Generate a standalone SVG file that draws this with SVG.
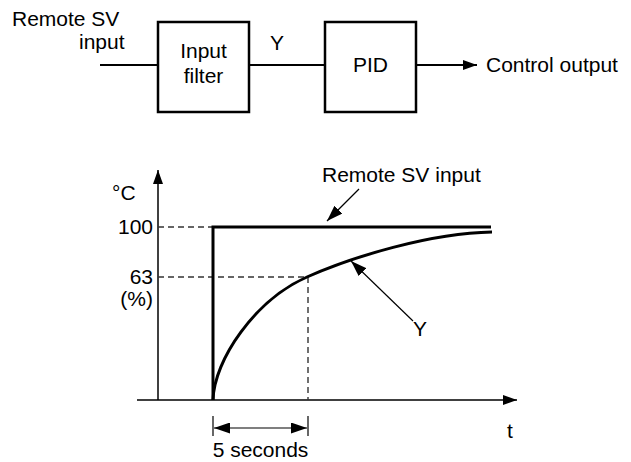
<svg xmlns="http://www.w3.org/2000/svg" width="631" height="462" viewBox="0 0 631 462">
<style>
text{font-family:"Liberation Sans",Arial,sans-serif;font-size:21px;fill:#000}
.box{fill:#fff;stroke:#000;stroke-width:2.5}
.ln{stroke:#000;stroke-width:2;fill:none}
.ax{stroke:#000;stroke-width:1.5;fill:none}
.thick{stroke:#000;stroke-width:3;fill:none}
.dash{stroke:#333;stroke-width:1.4;fill:none;stroke-dasharray:6,4}
.thin{stroke:#000;stroke-width:1.2;fill:none}
</style>
<defs>
<marker id="ah" viewBox="0 0 14 10" refX="14" refY="5" markerWidth="14" markerHeight="10" markerUnits="userSpaceOnUse" orient="auto-start-reverse">
<path d="M0,0 L14,5 L0,10 Z" fill="#000"/>
</marker>
<marker id="ahs" viewBox="0 0 16 11" refX="16" refY="5.5" markerWidth="16" markerHeight="11" markerUnits="userSpaceOnUse" orient="auto-start-reverse">
<path d="M0,0 L16,5.5 L0,11 Z" fill="#000"/>
</marker>
</defs>
<g id="connectors">
<line class="ln" x1="100" y1="65" x2="158" y2="65"/>
<line class="ln" x1="249" y1="65" x2="325" y2="65"/>
<line class="ln" x1="416" y1="65" x2="477" y2="65" marker-end="url(#ah)"/>
</g>
<g id="remote-label">
<text x="12" y="26">Remote SV</text>
<text x="79" y="49">input</text>
</g>
<g id="input-filter">
<rect class="box" x="158" y="22" width="91" height="90"/>
<text x="203.5" y="58" text-anchor="middle">Input</text>
<text x="203.5" y="83" text-anchor="middle">filter</text>
</g>
<g id="y-label"><text x="270" y="50">Y</text></g>
<g id="pid">
<rect class="box" x="325" y="22" width="91" height="90"/>
<text x="370.5" y="72" text-anchor="middle">PID</text>
</g>
<g id="control-output"><text x="486" y="72">Control output</text></g>

<g id="graph">
<line class="ax" x1="158" y1="400" x2="158" y2="170" marker-end="url(#ah)"/>
<line class="ax" x1="137" y1="400" x2="517" y2="400" marker-end="url(#ah)"/>
<line class="dash" x1="158" y1="227" x2="213" y2="227"/>
<line class="dash" x1="158" y1="277" x2="308" y2="277"/>
<line class="dash" x1="308" y1="277" x2="308" y2="400"/>
<polyline class="thick" points="213,400 213,227 491,227"/>
<path class="thick" d="M213,400 C214,360 255,300 307,277 C352,257 430,233 492,232"/>
<text x="112" y="200">°C</text>
<text x="153" y="234" text-anchor="end">100</text>
<text x="153" y="284" text-anchor="end">63</text>
<text x="153" y="306" text-anchor="end">(%)</text>
<text x="322" y="182">Remote SV input</text>
<line class="thin" x1="359" y1="189" x2="327" y2="221" marker-end="url(#ahs)"/>
<line class="thin" x1="413" y1="321" x2="351" y2="261" marker-end="url(#ahs)"/>
<text x="420" y="336" text-anchor="middle">Y</text>
<text x="507" y="438">t</text>
<line class="thin" x1="213" y1="416" x2="213" y2="436"/>
<line class="thin" x1="308" y1="416" x2="308" y2="436"/>
<line class="thin" x1="214" y1="428" x2="307" y2="428" marker-start="url(#ahs)" marker-end="url(#ahs)"/>
<text x="260.5" y="457" text-anchor="middle">5 seconds</text>
</g>
</svg>
